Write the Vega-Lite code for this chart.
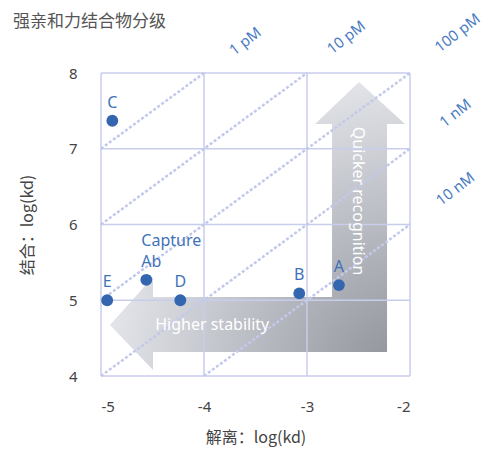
{
  "$schema": "https://vega.github.io/schema/vega-lite/v6.json",
  "width": 309,
  "height": 303,
  "autosize": {"type": "none"},
  "padding": {"left": 101, "top": 73, "right": 78, "bottom": 74},
  "background": "white",
  "config": {
    "view": {"stroke": null},
    "font": "Noto Sans, Noto Sans CJK SC",
    "axis": {"grid": false, "domain": false, "ticks": false, "labelFontSize": 15, "labelColor": "#444444", "titleFontSize": 16, "titleFontWeight": "normal", "titleColor": "#444444", "labelFont": "Noto Sans", "titleFont": "Noto Sans CJK SC", "labelExpr": "'' + datum.value"}
  },
  "title": {"text": "强亲和力结合物分级", "anchor": "start", "frame": "group", "dx": -88, "fontSize": 17, "fontWeight": "normal", "color": "#555555", "font": "Noto Sans CJK SC", "offset": -20},
  "datasets": {
    "arrow": [
      {"i": 1, "x": -2.495, "y": 7.881},
      {"i": 2, "x": -2.049, "y": 7.327},
      {"i": 3, "x": -2.223, "y": 7.327},
      {"i": 4, "x": -2.223, "y": 4.317},
      {"i": 5, "x": -4.495, "y": 4.317},
      {"i": 6, "x": -4.495, "y": 4.079},
      {"i": 7, "x": -4.913, "y": 4.673},
      {"i": 8, "x": -4.495, "y": 5.307},
      {"i": 9, "x": -4.495, "y": 5.043},
      {"i": 10, "x": -2.757, "y": 5.043},
      {"i": 11, "x": -2.757, "y": 7.327},
      {"i": 12, "x": -2.922, "y": 7.327}
    ],
    "vgrid": [{"v": -5}, {"v": -4}, {"v": -3}, {"v": -2}],
    "hgrid": [{"v": 4}, {"v": 5}, {"v": 6}, {"v": 7}, {"v": 8}],
    "iso": [
      {"k": "1 pM", "x": -5, "y": 7}, {"k": "1 pM", "x": -4, "y": 8},
      {"k": "10 pM", "x": -5, "y": 6}, {"k": "10 pM", "x": -3, "y": 8},
      {"k": "100 pM", "x": -5, "y": 5}, {"k": "100 pM", "x": -2, "y": 8},
      {"k": "1 nM", "x": -5, "y": 4}, {"k": "1 nM", "x": -2, "y": 7},
      {"k": "10 nM", "x": -4, "y": 4}, {"k": "10 nM", "x": -2, "y": 6}
    ],
    "isoLabels": [
      {"k": "1 pM", "x": -3.6, "y": 8.42},
      {"k": "10 pM", "x": -2.62, "y": 8.47},
      {"k": "100 pM", "x": -1.54, "y": 8.53},
      {"k": "1 nM", "x": -1.56, "y": 7.47},
      {"k": "10 nM", "x": -1.56, "y": 6.47}
    ],
    "points": [
      {"name": "C", "kd": -4.89, "ka": 7.37},
      {"name": "Capture Ab", "kd": -4.56, "ka": 5.27},
      {"name": "E", "kd": -4.94, "ka": 5.0},
      {"name": "D", "kd": -4.23, "ka": 5.0},
      {"name": "B", "kd": -3.075, "ka": 5.09},
      {"name": "A", "kd": -2.69, "ka": 5.2}
    ],
    "arrowText": [
      {"t": "Higher stability", "x": -3.92, "y": 4.67, "a": 0},
      {"t": "Quicker recognition", "x": -2.505, "y": 6.31, "a": 90}
    ]
  },
  "layer": [
    {
      "data": {"name": "arrow"},
      "mark": {"type": "line", "clip": false, "strokeWidth": 0, "fill": {"gradient": "radial", "x1": 1, "y1": 1, "r1": 0, "x2": 1, "y2": 1, "r2": 1.15, "stops": [{"offset": 0, "color": "#8d9098"}, {"offset": 1, "color": "#eef0f5"}]}},
      "encoding": {
        "x": {"field": "x", "type": "quantitative", "scale": {"domain": [-5, -2], "nice": false, "zero": false}, "axis": {"values": [-5, -4, -3, -2], "title": "解离：log(kd)", "labelPadding": 23, "titlePadding": 15}},
        "y": {"field": "y", "type": "quantitative", "scale": {"domain": [4, 8], "nice": false, "zero": false}, "axis": {"values": [4, 5, 6, 7, 8], "title": "结合：log(kd)", "labelPadding": 24, "titlePadding": 33}},
        "order": {"field": "i", "type": "quantitative"}
      }
    },
    {
      "data": {"name": "vgrid"},
      "mark": {"type": "rule", "color": "#c8cdec", "strokeWidth": 1.5},
      "encoding": {"x": {"field": "v", "type": "quantitative"}}
    },
    {
      "data": {"name": "hgrid"},
      "mark": {"type": "rule", "color": "#c8cdec", "strokeWidth": 1.5},
      "encoding": {"y": {"field": "v", "type": "quantitative"}}
    },
    {
      "data": {"name": "iso"},
      "mark": {"type": "line", "color": "#c3c9ea", "strokeWidth": 2.5, "strokeDash": [3, 2]},
      "encoding": {
        "x": {"field": "x", "type": "quantitative"},
        "y": {"field": "y", "type": "quantitative"},
        "detail": {"field": "k"}
      }
    },
    {
      "data": {"name": "isoLabels"},
      "mark": {"type": "text", "angle": -38, "fontSize": 15, "color": "#4a7cc1", "align": "center", "baseline": "middle", "clip": false},
      "encoding": {
        "x": {"field": "x", "type": "quantitative"},
        "y": {"field": "y", "type": "quantitative"},
        "text": {"field": "k"}
      }
    },
    {
      "data": {"name": "arrowText"},
      "mark": {"type": "text", "fontSize": 16, "color": "white", "align": "center", "baseline": "middle"},
      "encoding": {
        "x": {"field": "x", "type": "quantitative"},
        "y": {"field": "y", "type": "quantitative"},
        "text": {"field": "t"},
        "angle": {"field": "a", "type": "quantitative", "scale": null}
      }
    },
    {
      "data": {"name": "points"},
      "mark": {"type": "circle", "size": 140, "color": "#3466b0", "opacity": 1},
      "encoding": {
        "x": {"field": "kd", "type": "quantitative"},
        "y": {"field": "ka", "type": "quantitative"}
      }
    },
    {
      "data": {"name": "points"},
      "transform": [{"filter": "datum.name !== 'Capture Ab'"}],
      "mark": {"type": "text", "fontSize": 16, "color": "#3f72b8", "dy": -18, "align": "center", "baseline": "middle"},
      "encoding": {
        "x": {"field": "kd", "type": "quantitative"},
        "y": {"field": "ka", "type": "quantitative"},
        "text": {"field": "name"}
      }
    },
    {
      "data": {"name": "points"},
      "transform": [{"filter": "datum.name === 'Capture Ab'"}, {"calculate": "split(datum.name, ' ')", "as": "lines"}],
      "mark": {"type": "text", "fontSize": 16, "color": "#3f72b8", "dy": -31, "dx": -5, "align": "left", "baseline": "bottom", "lineHeight": 21},
      "encoding": {
        "x": {"field": "kd", "type": "quantitative"},
        "y": {"field": "ka", "type": "quantitative"},
        "text": {"field": "lines"}
      }
    }
  ]
}
